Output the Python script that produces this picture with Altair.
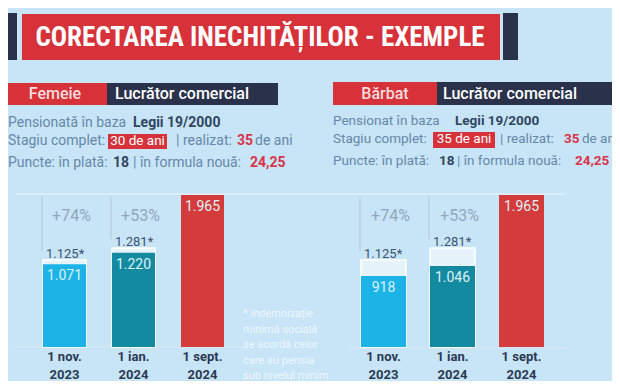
import altair as alt
import pandas as pd

# ---------------- data ----------------
title_text = "CORECTAREA INECHITĂȚILOR - EXEMPLE"
dates = ["1 nov.\n2023", "1 ian.\n2024", "1 sept.\n2024"]
femeie_values = [1071, 1220, 1965]
barbat_values = [918, 1046, 1965]
star_values = [1125, 1281, None]          # indemnizație minimă socială
pct_labels = ["+74%", "+53%", ""]

panel_tags = ["Femeie", "Bărbat"]
job = "Lucrător comercial"
pension_lead = ["Pensionată în baza", "Pensionat în baza"]
law = "Legii 19/2000"
stagiu_complet = ["30 de ani", "35 de ani"]
realizat = ["35", "35"]
puncte_plata = ["18", "18"]
puncte_noua = ["24,25", "24,25"]
footnote = ["* indemnizație", "minimă socială", "se acordă celor",
            "care au pensia", "sub nivelul minim"]

# ---------------- styles ----------------
BG = "#c8e4f7"
RED = "#d7313a"
NAVY = "#29324a"
GRAY = "#6688a8"
DARK = "#30465f"
NUMRED = "#d8344a"
BAR_COLORS = ["#1cb4e6", "#148aa0", "#d43c3c"]
FONT = "Roboto"

W, H = 604, 373
one = pd.DataFrame({"k": [0]})


def rect(x1, x2, y1, y2, color):
    return alt.Chart(one).mark_rect(color=color).encode(
        x=alt.value(x1), x2=alt.value(x2), y=alt.value(y1), y2=alt.value(y2))


def rule(x1, x2, y1, y2, color, width=1):
    return alt.Chart(one).mark_rule(color=color, strokeWidth=width).encode(
        x=alt.value(x1), x2=alt.value(x2), y=alt.value(y1), y2=alt.value(y2))


def txt(s, x, y, size=14, color=GRAY, weight="normal", align="left",
        baseline="alphabetic", font=FONT):
    return alt.Chart(one).mark_text(
        text=s, fontSize=size, color=color, fontWeight=weight, align=align,
        baseline=baseline, font=font).encode(x=alt.value(x), y=alt.value(y))


layers = []
# title banner
layers += [
    rect(0, 9, 5, 52, NAVY),
    rect(495, 510, 5, 52, NAVY),
    rect(14, 492, 6, 52, RED),
    txt(title_text, 252, 30, size=27, color="white", align="center", weight="bold",
        baseline="middle", font="Liberation Sans Narrow, Roboto Condensed, Roboto"),
]

# panel headers
hdr = [
    dict(x0=0, tagc=47, tagend=99, navyend=270, jobx=107, ty=86, top=75, fs=14,
         l1=119, lawx=125, l2=137, box=(100, 159, 126, 141), rx=168, r35=229, rde=247,
         l3=159, p18=105, pnx=125, pnv=242),
    dict(x0=325, tagc=377, tagend=429, navyend=604, jobx=435, ty=86, top=74, fs=13.5,
         l1=117, lawx=447, l2=135, box=(425, 487, 124, 140), rx=492, r35=556, rde=574,
         l3=157, p18=431, pnx=449, pnv=567),
]
for i, h in enumerate(hdr):
    bx = h["box"]
    fs = h["fs"]
    layers += [
        rect(h["x0"], h["tagend"], h["top"], 97, RED),
        rect(h["tagend"], h["navyend"], h["top"], 97, NAVY),
        txt(panel_tags[i], h["tagc"], h["ty"], size=16, color="#f4dede", weight=500,
            align="center", baseline="middle"),
        txt(job, h["jobx"], h["ty"], size=16, color="white", weight=500, baseline="middle"),
        txt(pension_lead[i], h["x0"], h["l1"], size=fs),
        txt(law, h["lawx"], h["l1"], color=DARK, weight="bold", size=fs),
        txt("Stagiu complet:", h["x0"], h["l2"], size=fs),
        rect(bx[0], bx[1], bx[2], bx[3], RED),
        txt(stagiu_complet[i], (bx[0] + bx[1]) / 2, h["l2"] - 0.5, color="white",
            align="center", size=13.5),
        txt("| realizat:", h["rx"], h["l2"], size=fs),
        txt(realizat[i], h["r35"], h["l2"], color=NUMRED, weight="bold", size=fs),
        txt("de ani", h["rde"], h["l2"], size=fs),
        txt("Puncte: în plată:", h["x0"], h["l3"], size=fs),
        txt(puncte_plata[i], h["p18"], h["l3"], color=DARK, weight="bold", size=fs),
        txt("| în formula nouă:", h["pnx"], h["l3"], size=fs),
        txt(puncte_noua[i], h["pnv"], h["l3"], color=NUMRED, weight="bold", size=fs),
    ]

# chart frame lines
layers += [
    rule(8, 557, 186, 186, "#eef5fa"),
    rule(5, 235, 339, 339, "#dbe6ee"),
    rule(339, 559, 340, 340, "#dbe6ee"),
]

# footnote
for j, line in enumerate(footnote):
    layers.append(txt(line, 235, 306 + j * 15.5, size=11, color="#eef7fd",
                      baseline="middle"))

ys = alt.Scale(domain=[0, 1965], range=[339, 187], nice=False, zero=True)


def panel(values, xrange, pinner):
    df = pd.DataFrame({
        "date": dates,
        "value": values,
        "label": [f"{v:,}".replace(",", ".") for v in values],
        "star": star_values,
        "star_label": [("" if s is None else f"{s:,}".replace(",", ".") + "*")
                       for s in star_values],
        "pct": pct_labels,
    })
    xs = alt.Scale(domain=dates, range=xrange, paddingInner=pinner, paddingOuter=0)
    base = alt.Chart(df)
    X = alt.X("date:N", scale=xs, axis=None, sort=None)
    Xl = alt.X("date:N", scale=xs, axis=None, sort=None, bandPosition=0)
    star = base.transform_filter("isValid(datum.star)")
    outline = star.mark_bar(fill="#e6f3fb", stroke="white", strokeWidth=1.5).encode(
        x=X, y=alt.Y("star:Q", scale=ys, axis=None))
    bars = base.mark_bar().encode(
        x=X, y=alt.Y("value:Q", scale=ys, axis=None),
        color=alt.Color("date:N", scale=alt.Scale(domain=dates, range=BAR_COLORS),
                        legend=None))
    vlines = star.transform_calculate(top="1940", lo="datum.star + 110").mark_rule(
        color="#b3c5d4", strokeWidth=1, xOffset=-1).encode(
        x=Xl, y=alt.Y("top:Q", scale=ys, axis=None), y2="lo:Q")
    star_txt = star.mark_text(align="left", dx=3, dy=-6, fontSize=13, color="#3a5570",
                              font=FONT).encode(
        x=Xl, y=alt.Y("star:Q", scale=ys, axis=None), text="star_label:N")
    pct_txt = star.mark_text(align="center", dx=7, fontSize=16, color="#92a7ba",
                             font=FONT, baseline="alphabetic").encode(
        x=X, y=alt.value(213), text="pct:N")
    val_txt = base.mark_text(align="center", dy=16, fontSize=14, color="#dcf1fa",
                             font=FONT, baseline="alphabetic").encode(
        x=X, y=alt.Y("value:Q", scale=ys, axis=None), text="label:N")
    date_txt = base.mark_text(align="center", baseline="top", fontSize=13, color="#2a3a52",
                              fontWeight="bold", font=FONT, lineBreak="\n",
                              lineHeight=18).encode(
        x=X, y=alt.value(343), text="date:N")
    return alt.layer(vlines, outline, bars, star_txt, pct_txt, val_txt, date_txt)


left = panel(femeie_values, [35, 216], 0.377)
right = panel(barbat_values, [353, 536], 0.348)

chart = alt.layer(*layers, left, right).resolve_scale(
    x="independent", color="independent"
).properties(
    width=W, height=H, padding=0,
    autosize=alt.AutoSizeParams(type="none"),
    background=BG,
).configure_view(stroke=None)

chart.save("out.html", embed_options={"renderer": "svg", "actions": False})
